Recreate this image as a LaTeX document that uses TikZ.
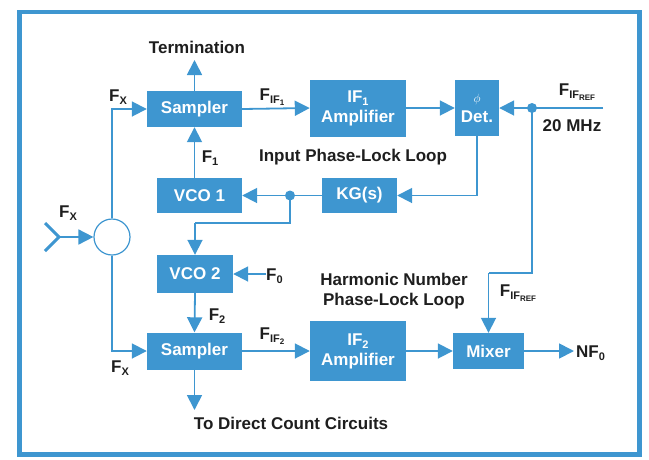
\documentclass[tikz,border=0pt]{standalone}
\usepackage{fontspec}
\setmainfont{Liberation Sans}
\usetikzlibrary{arrows.meta,calc}
\definecolor{hpblue}{RGB}{62,150,208}
\definecolor{ink}{RGB}{30,30,30}
\newcommand\sba[1]{\raisebox{-0.35ex}{\fontsize{11}{11}\selectfont #1}}
\newcommand\sbb[1]{\raisebox{-0.3ex}{\fontsize{8}{8}\selectfont #1}}
\begin{document}
\begin{tikzpicture}[x=1pt,y=-1pt,
  font=\fontsize{17}{20}\selectfont\bfseries,
  blk/.style={fill=hpblue,text=white,inner sep=0pt,align=center},
  lbl/.style={text=ink,inner sep=0pt,align=center},
  wire/.style={draw=hpblue,line width=1.8pt},
  arr/.style={wire,-{Triangle[length=15pt,width=15pt]}},
  jdot/.style={circle,fill=hpblue,inner sep=0pt,minimum size=10pt}]
\useasboundingbox (0,0) rectangle (649,459);
\draw[hpblue,line width=4.5pt] (19.5,12) rectangle (639.5,454.5);

% blocks
\node[blk,minimum width=95pt,minimum height=36pt] (samp1) at (194.5,109) {Sampler};
\node[blk,minimum width=96pt,minimum height=57pt] (if1) at (358,108) {IF\sba{1}\\Amplifier};
\node[blk,minimum width=44pt,minimum height=56pt] (det) at (477,108) {{\fontsize{12}{12}\selectfont$\phi$}\\Det.};
\node[blk,minimum width=75pt,minimum height=35pt] (kg) at (359.5,195.5) {KG(s)};
\node[blk,minimum width=85pt,minimum height=35pt] (vco1) at (199.5,195.5) {VCO 1};
\node[blk,minimum width=76pt,minimum height=38pt] (vco2) at (195,274) {VCO 2};
\node[blk,minimum width=95pt,minimum height=37pt] (samp2) at (194.5,351) {Sampler};
\node[blk,minimum width=96pt,minimum height=60pt] (if2) at (358,351) {IF\sba{2}\\Amplifier};
\node[blk,minimum width=71pt,minimum height=36pt] (mixer) at (488.5,351) {Mixer};
\node[circle,draw=hpblue,fill=white,line width=1.2pt,minimum size=36pt,inner sep=0pt] (circ) at (112,237) {};

% junctions
\node[jdot] (dot1) at (532,108) {};
\node[jdot] (dot2) at (290,195.5) {};
\coordinate (in20) at (603,108);
\coordinate (bend2) at (195,223);
\coordinate (bend1) at (488.5,273);
\coordinate (termend) at (194.5,60);
\coordinate (dcend) at (194.5,410);
\coordinate (nfend) at (574,351);
\coordinate (ant) at (59,237);
\coordinate (antA) at (45,223);
\coordinate (antB) at (45,251);

% labels
\node[lbl] (term) at (197,47) {Termination};
\node[lbl] (fx1) at (118,97) {F\sba{X}};
\node[lbl] (fif1) at (272,97) {F\sba{IF\sbb{1}}};
\node[lbl] (fref1) at (577,92) {F\sba{IF\sbb{REF}}};
\node[lbl] (mhz) at (572,126) {20 MHz};
\node[lbl] (iplll) at (353,157) {Input Phase-Lock Loop};
\node[lbl] (f1) at (210,158) {F\sba{1}};
\node[lbl] (fx0) at (68,213) {F\sba{X}};
\node[lbl,anchor=west] (f0) at (266,276) {F\sba{0}};
\node[lbl] (f2) at (217,316) {F\sba{2}};
\node[lbl] (hnpll) at (394,291) {Harmonic Number\\Phase-Lock Loop};
\node[lbl] (fref2) at (518,293) {F\sba{IF\sbb{REF}}};
\node[lbl] (fif2) at (272,336) {F\sba{IF\sbb{2}}};
\node[lbl] (fx2) at (120,368) {F\sba{X}};
\node[lbl,anchor=west] (nf0) at (576,353) {NF\sba{0}};
\node[lbl] (dcc) at (291,423) {To Direct Count Circuits};

% antenna
\draw[hpblue,line width=3pt] (antA) -- (ant) -- (antB);
\draw[arr] (ant) -- (circ.west);

% connectors
\draw[arr] (samp1.north) -- (termend);
\draw[arr] (circ.north) |- (samp1.west);
\draw[arr] (samp1.east) -- (if1.west);
\draw[arr] (if1.east) -- (det.west);
\draw[wire] (in20) -- (dot1.center);
\draw[arr] (dot1.center) -- (det.east);
\draw[arr] (det.south) |- (kg.east);
\draw[arr] (kg.west) -- (vco1.east);
\draw[arr] (samp1.south |- vco1.north) -- (samp1.south);
\draw[wire] (dot2.center) |- (bend2);
\draw[arr] (bend2) -- (vco2.north);
\draw[arr] (f0.west |- vco2.east) -- (vco2.east);
\draw[arr] (vco2.south) -- (samp2.north);
\draw[arr] (circ.south) |- (samp2.west);
\draw[arr] (samp2.south) -- (dcend);
\draw[arr] (samp2.east) -- (if2.west);
\draw[arr] (if2.east) -- (mixer.west);
\draw[arr] (mixer.east) -- (nfend);
\draw[wire] (dot1.center) |- (bend1);
\draw[arr] (bend1) -- (mixer.north);
\end{tikzpicture}
\end{document}
